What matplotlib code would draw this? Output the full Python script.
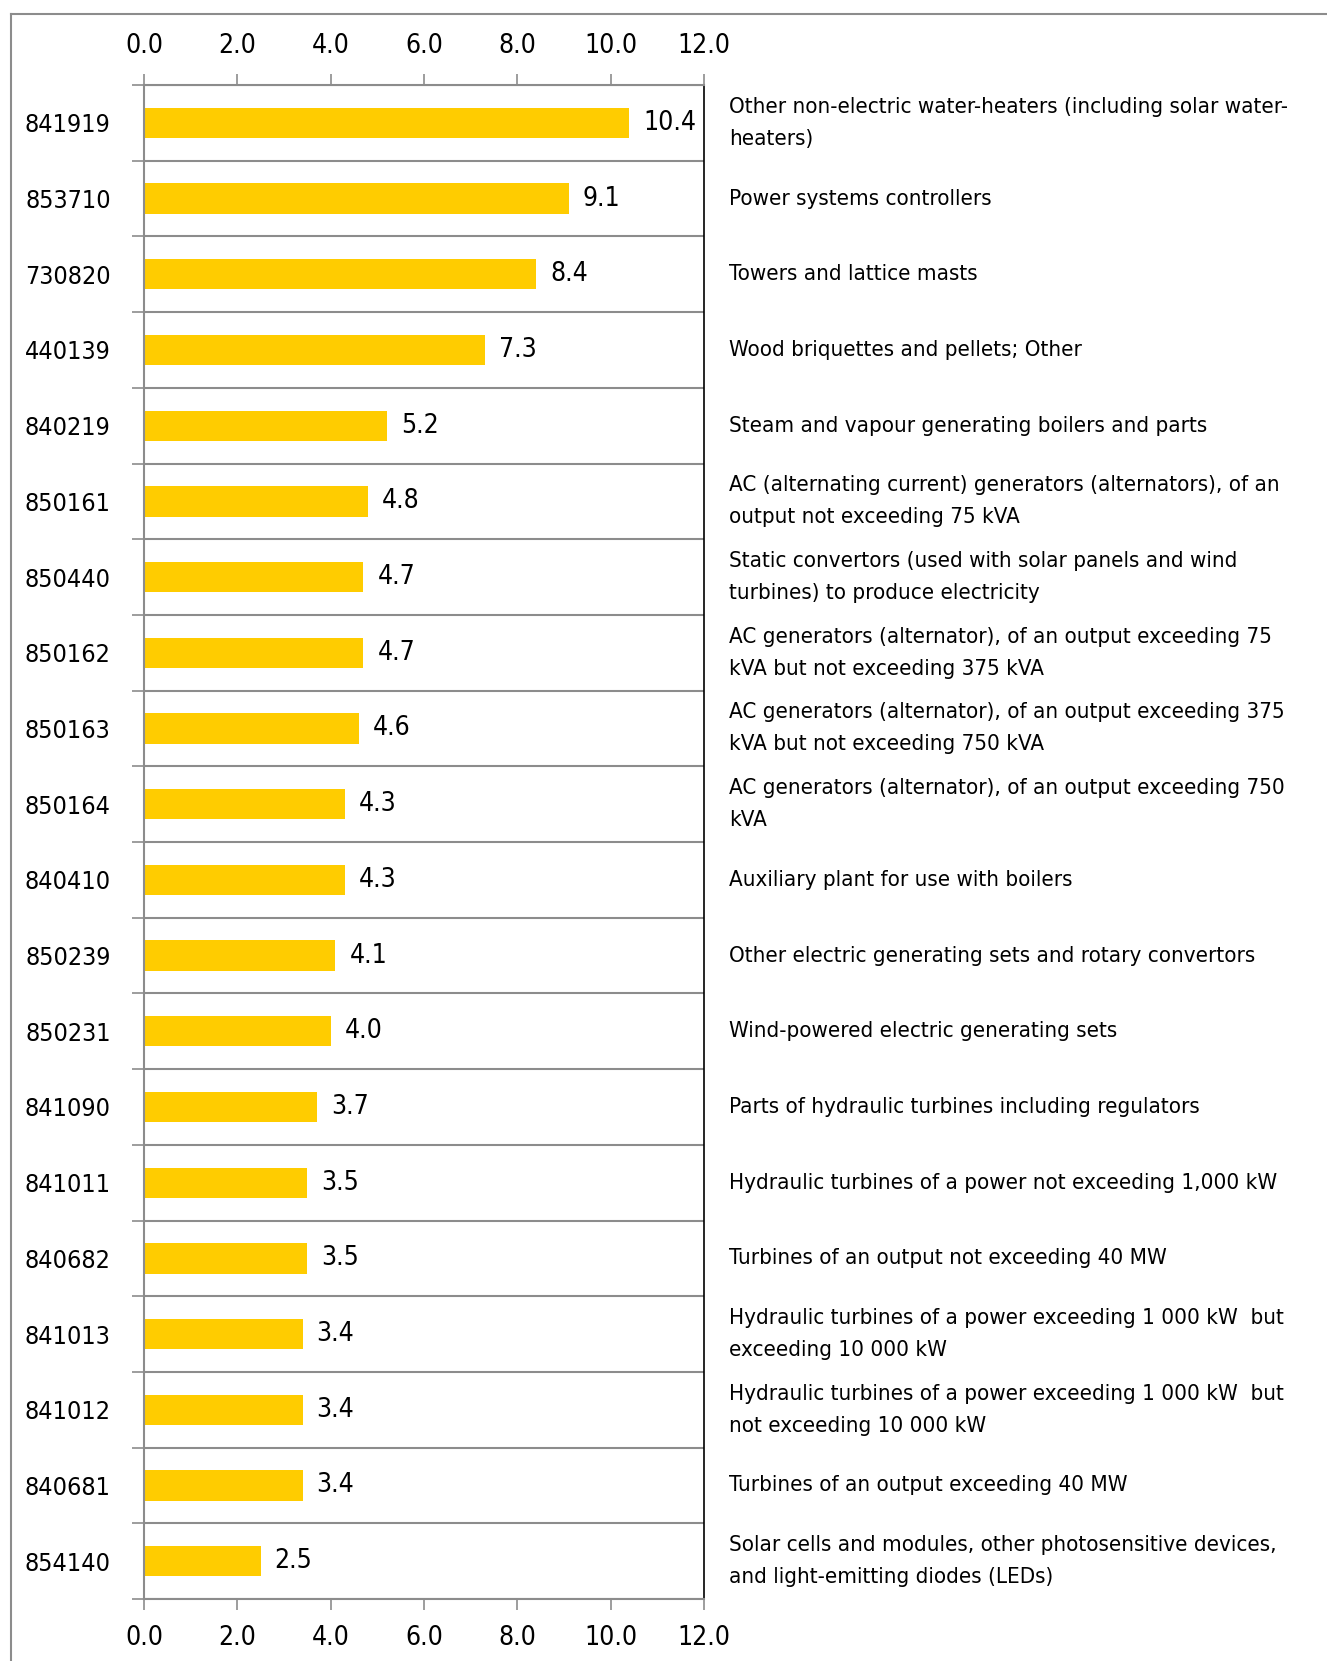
import matplotlib.pyplot as plt
from matplotlib.lines import Line2D

codes = ["841919", "853710", "730820", "440139", "840219", "850161", "850440",
         "850162", "850163", "850164", "840410", "850239", "850231", "841090",
         "841011", "840682", "841013", "841012", "840681", "854140"]
values = [10.4, 9.1, 8.4, 7.3, 5.2, 4.8, 4.7, 4.7, 4.6, 4.3, 4.3, 4.1, 4.0,
          3.7, 3.5, 3.5, 3.4, 3.4, 3.4, 2.5]
descriptions = [
    "Other non-electric water-heaters (including solar water-\nheaters)",
    "Power systems controllers",
    "Towers and lattice masts",
    "Wood briquettes and pellets; Other",
    "Steam and vapour generating boilers and parts",
    "AC (alternating current) generators (alternators), of an\noutput not exceeding 75 kVA",
    "Static convertors (used with solar panels and wind\nturbines) to produce electricity",
    "AC generators (alternator), of an output exceeding 75\nkVA but not exceeding 375 kVA",
    "AC generators (alternator), of an output exceeding 375\nkVA but not exceeding 750 kVA",
    "AC generators (alternator), of an output exceeding 750\nkVA",
    "Auxiliary plant for use with boilers",
    "Other electric generating sets and rotary convertors",
    "Wind-powered electric generating sets",
    "Parts of hydraulic turbines including regulators",
    "Hydraulic turbines of a power not exceeding 1,000 kW",
    "Turbines of an output not exceeding 40 MW",
    "Hydraulic turbines of a power exceeding 1 000 kW  but\nexceeding 10 000 kW",
    "Hydraulic turbines of a power exceeding 1 000 kW  but\nnot exceeding 10 000 kW",
    "Turbines of an output exceeding 40 MW",
    "Solar cells and modules, other photosensitive devices,\nand light-emitting diodes (LEDs)",
]
xticks = [0, 2, 4, 6, 8, 10, 12]

plt.rcParams['font.family'] = ['DejaVu Sans']
plt.rcParams['font.stretch'] = 'condensed'
FS = 19
FS_CODE = 18
FS_DESC = 16
GRAY = '#8c8c8c'

fig = plt.figure(figsize=(13.27, 16.61), dpi=100)
ax = fig.add_axes([0.1085, 0.0373, 0.4221, 0.9115])

n = len(codes)
ypos = list(range(n))
ax.barh(ypos, values, height=0.4, color='#ffcc00')
ax.set_ylim(n - 0.5, -0.5)
ax.set_xlim(0, 12)

for y, v in zip(ypos, values):
    ax.text(v + 0.3, y, f"{v:.1f}", va='center', ha='left', fontsize=FS)
    ax.text(1.045, y, descriptions[y], transform=ax.get_yaxis_transform(),
            va='center', ha='left', fontsize=FS_DESC, linespacing=1.75)

# row separators
for b in range(n + 1):
    ax.axhline(b - 0.5, color=GRAY, lw=1.5, zorder=0)

ax.set_xticks(xticks)
ax.set_xticklabels([f"{t:.1f}" for t in xticks], fontsize=FS)
ax.tick_params(axis='x', top=True, labeltop=True, bottom=True, labelbottom=True,
               length=8, width=1.2, color=GRAY, pad=11)

ax.set_yticks([b - 0.5 for b in range(n + 1)])
ax.set_yticklabels([])
ax.set_yticks(ypos, minor=True)
ax.set_yticklabels(codes, minor=True, fontsize=FS_CODE)
ax.tick_params(axis='y', which='major', length=9, width=1.2, color=GRAY)
ax.tick_params(axis='y', which='minor', length=0, pad=24)

for s in ['left', 'top', 'bottom']:
    ax.spines[s].set_color(GRAY)
    ax.spines[s].set_linewidth(1.5)
ax.spines['right'].set_color('black')
ax.spines['right'].set_linewidth(1.2)

# outer frame (top and left only)
fig.add_artist(Line2D([0.008, 1.0], [0.9916, 0.9916], color=GRAY, lw=1.5))
fig.add_artist(Line2D([0.008, 0.008], [0.0, 0.9916], color=GRAY, lw=1.5))

fig.savefig('out.png', dpi=100)
